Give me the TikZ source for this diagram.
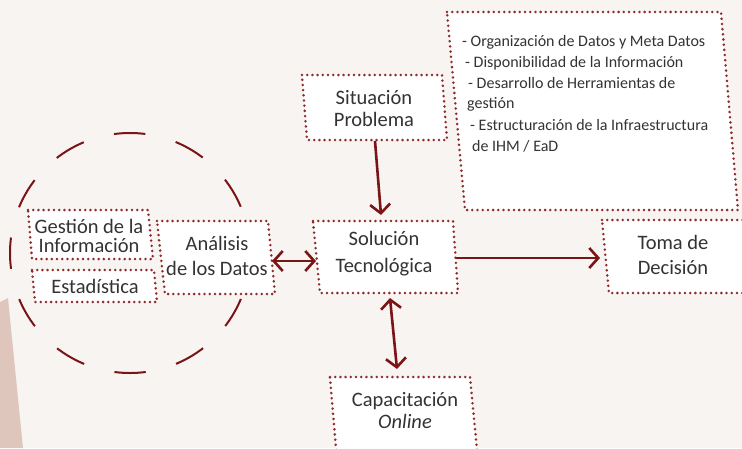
\documentclass[tikz,border=0pt]{standalone}
\usepackage{fontspec}
\setmainfont{Carlito}
\usetikzlibrary{arrows.meta}
\definecolor{bg}{HTML}{F8F4F1}
\definecolor{wedge}{HTML}{DFC6BD}
\definecolor{dred}{HTML}{7A1416}
\definecolor{dotred}{HTML}{8E2B2B}
\definecolor{txt}{HTML}{333333}
\tikzset{
  dotbox/.style={fill=white, draw=dotred, line width=2.8pt, line cap=round, dash pattern=on 0pt off 5.2pt},
  lbl/.style={text=txt, font=\fontsize{20.5}{26}\selectfont, align=center, inner sep=0pt},
  lst/.style={text=txt, font=\fontsize{16}{18}\selectfont, anchor=base west, inner sep=0pt},
  conn/.style={draw=dred, line width=2.6pt, -{Straight Barb[length=9pt,width=20pt]}},
  dconn/.style={draw=dred, line width=2.6pt, {Straight Barb[length=9pt,width=20pt]}-{Straight Barb[length=9pt,width=20pt]}},
}
\begin{document}
\begin{tikzpicture}[x=1pt,y=-1pt]
\useasboundingbox (0,0) rectangle (742,448);
\fill[bg] (0,0) rectangle (742,448);
\fill[wedge] (0,302) -- (8,298) -- (23,448) -- (0,448) -- cycle;
% dashed circle
\draw[dred, line width=2pt, dash pattern=on 31.4pt off 31.4pt, dash phase=15.7pt] (130,253) circle[radius=120];
% big info box
\draw[dotbox] (447,12) -- (721,12) -- (738,210) -- (465,210) -- cycle;
\node[lst] (l1) at (462,46) {- Organización de Datos y Meta Datos};
\node[lst] (l2) at (465,67) {- Disponibilidad de la Información};
\node[lst] (l3) at (468,88) {- Desarrollo de Herramientas de};
\node[lst] (l4) at (467,108) {gestión};
\node[lst] (l5) at (470,130) {- Estructuración de la Infraestructura};
\node[lst] (l6) at (472,151) {de IHM / EaD};
% boxes
\draw[dotbox] (302,75) -- (442,75) -- (447,140) -- (307,140) -- cycle;
\node[lbl, font=\fontsize{20.5}{22}\selectfont] (sit) at (374,109) {Situación\\Problema};
\draw[dotbox] (313,221) -- (453,221) -- (458,293) -- (320,293) -- cycle;
\node[lbl, font=\fontsize{20.5}{27}\selectfont] (sol) at (384,254) {Solución\\Tecnológica};
\draw[dotbox] (330,377) -- (470,377) -- (478,460) -- (337,460) -- cycle;
\node[lbl, font=\fontsize{20.5}{22}\selectfont] (cap) at (405,411) {Capacitación\\\textit{Online}};
\draw[dotbox] (602,220) -- (750,220) -- (755,293) -- (609,293) -- cycle;
\node[lbl, font=\fontsize{20.5}{25}\selectfont] (tom) at (673,255) {Toma de\\Decisión};
\draw[dotbox] (28,210) -- (148,210) -- (153,259) -- (32,259) -- cycle;
\node[lbl, font=\fontsize{20.5}{18.5}\selectfont] (ges) at (89,236) {Gestión de la\\Información};
\draw[dotbox] (32,270) -- (154,270) -- (157,302) -- (35,302) -- cycle;
\node[lbl] (est) at (95,286) {Estadística};
\draw[dotbox] (157,221) -- (268,221) -- (275,294) -- (165,294) -- cycle;
\node[lbl, font=\fontsize{20.5}{25}\selectfont] (ana) at (217,256) {Análisis\\de los Datos};
% connector anchors
\coordinate (sitB) at (375,141);
\coordinate (solT) at (381,215);
\coordinate (anaR) at (272,261);
\coordinate (solL) at (316,261);
\coordinate (solR) at (456,258);
\coordinate (tomL) at (600,258);
\coordinate (solB) at (390,298);
\coordinate (capT) at (397,369);
\draw[conn] (sitB) -- (solT);
\draw[dconn] (anaR) -- (solL);
\draw[conn] (solR) -- (tomL);
\draw[dconn] (solB) -- (capT);
\end{tikzpicture}
\end{document}
